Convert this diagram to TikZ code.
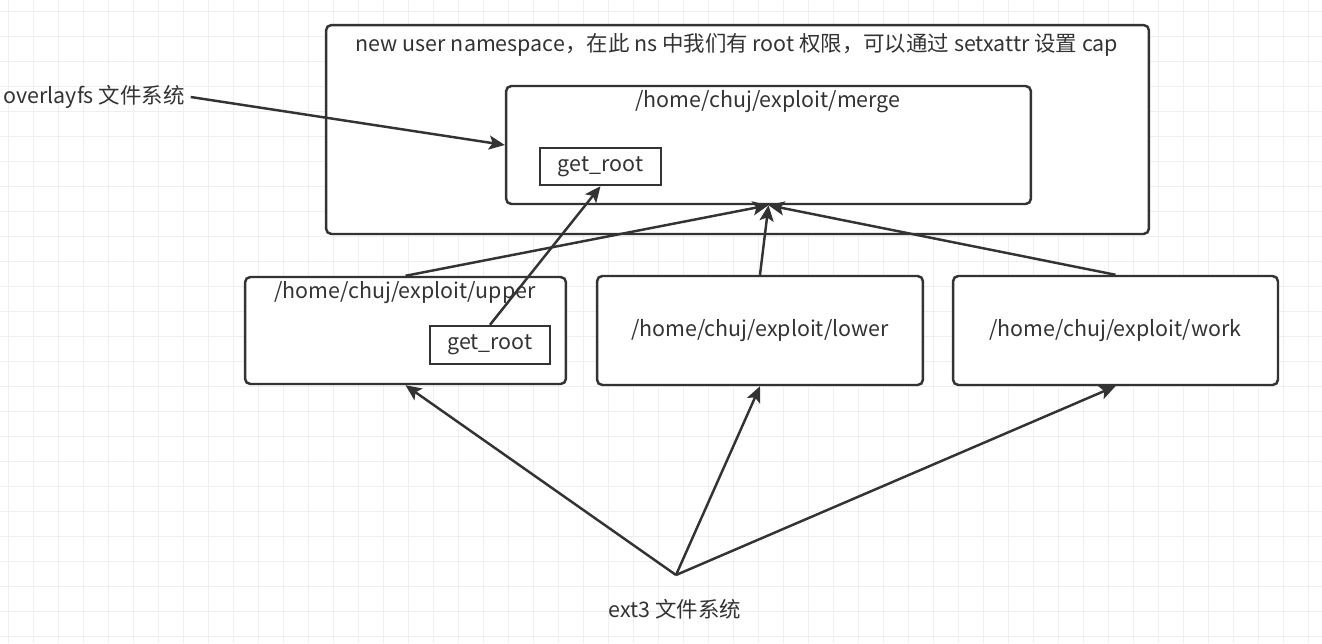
\documentclass[tikz,border=0pt]{standalone}
\usepackage{fontspec}
\setmainfont{Noto Sans CJK SC}
\usetikzlibrary{arrows.meta}
\definecolor{ink}{HTML}{333333}
\definecolor{gridgray}{HTML}{EFEFEF}

\begin{document}
\begin{tikzpicture}[x=0.02cm, y=-0.02cm,
    every node/.style={text=ink, font=\fontsize{12.2}{14}\selectfont},
    caption/.style={yshift=-0.04cm},
    dirbox/.style={draw=ink, line width=1.4pt, fill=white, rounded corners=3pt, inner sep=0pt},
    filebox/.style={draw=ink, line width=1.4pt, fill=white, inner sep=0pt},
    link/.style={draw=ink, line width=1.4pt, -{Stealth[length=9pt, width=8pt, inset=2pt]}}]
    \useasboundingbox (0, 0) rectangle (1322, 643);
    \fill [white] (0, 0) rectangle (1322, 643);

    % background grid
    \foreach \x in {8.5, 33.5, ..., 1322}
      \draw [gridgray, line width=0.6pt] (\x, 0) to (\x, 643);
    \foreach \y in {11.5, 36.5, ..., 643}
      \draw [gridgray, line width=0.6pt] (0, \y) to (1322, \y);

    % namespace and overlay mount
    \node [dirbox, minimum width=16.46cm, minimum height=4.18cm] (ns) at (737.5, 129.5) {};
    \node [caption] (nstitle) at (737, 43) {new user namespace，在此 ns 中我们有 root 权限，可以通过 setxattr 设置 cap};
    \node [dirbox, minimum width=10.5cm, minimum height=2.36cm] (merge) at (768.5, 145) {};
    \node [caption] (mergetitle) at (768, 100) {/home/chuj/exploit/merge};
    \node [filebox, minimum width=2.42cm, minimum height=0.74cm] (getm) at (600.5, 166.5) {get\_root};

    % lower layers
    \node [dirbox, minimum width=6.42cm, minimum height=2.14cm] (upper) at (405.5, 330.5) {};
    \node [caption] (uppertitle) at (405, 291) {/home/chuj/exploit/upper};
    \node [filebox, minimum width=2.4cm, minimum height=0.76cm] (getup) at (490, 345) {get\_root};
    \node [dirbox, minimum width=6.52cm, minimum height=2.18cm] (lower) at (760, 330.5) {/home/chuj/exploit/lower};
    \node [dirbox, minimum width=6.5cm, minimum height=2.18cm] (work) at (1115.5, 330.5) {/home/chuj/exploit/work};

    % labels
    \node [caption] (overlay) at (94, 95) {overlayfs 文件系统};
    \node [caption] (ext3) at (675, 607) {ext3 文件系统};
    \coordinate (ext3src) at (676, 575);

    \draw [link] (overlay.east) to (merge.west);
    \draw [link] (upper.north) to (merge.south);
    \draw [link] (lower.north) to (merge.south);
    \draw [link] (work.north) to (merge.south);
    \draw [link] (getup.north) to (getm.south);
    \draw [link] (ext3src) to (upper.south);
    \draw [link] (ext3src) to (lower.south);
    \draw [link] (ext3src) to (work.south);
  \end{tikzpicture}
\end{document}
